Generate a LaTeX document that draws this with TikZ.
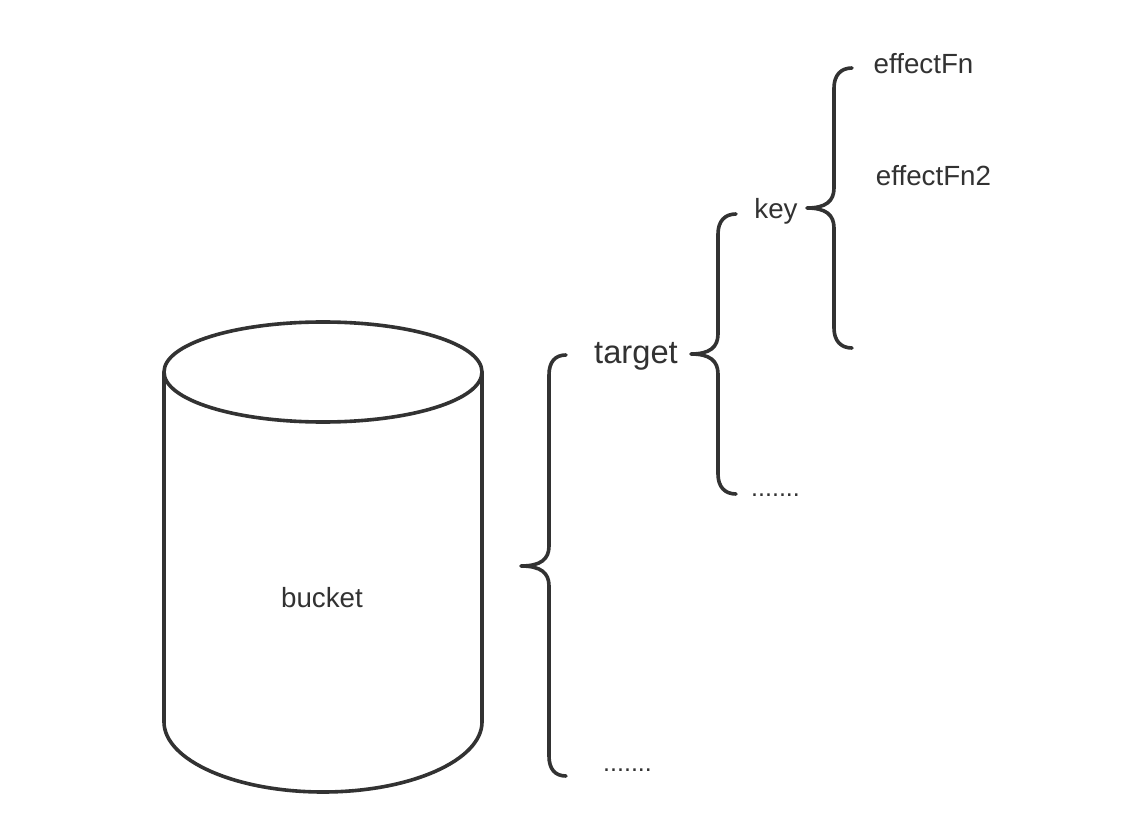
\documentclass[tikz,border=0pt]{standalone}
\usepackage{fontspec}
\setmainfont{Liberation Sans}
\definecolor{ink}{HTML}{323232}
\tikzset{
  outline/.style={draw=ink,line width=2.7pt,line cap=round,line join=round},
  lab/.style={text=ink,inner sep=0pt,font=\fontsize{#1}{#1}\selectfont}
}
\begin{document}
\begin{tikzpicture}[x=0.75pt,y=-0.75pt]
\useasboundingbox[fill=white] (0,0) rectangle (1138,816);
% cylinder
\draw[outline] (164,372) .. controls (164,344) and (235,322) .. (323,322) .. controls (411,322) and (482,344) .. (482,372) .. controls (482,400) and (411,422) .. (323,422) .. controls (235,422) and (164,400) .. (164,372) -- cycle;
\draw[outline] (164,372) -- (164,722) .. controls (164,760) and (235,792) .. (323,792) .. controls (411,792) and (482,760) .. (482,722) -- (482,372);
\node[lab=20.8] (bucket) at (322,597.5) {bucket};
% braces
\draw[outline] (566,355) .. controls (555,355) and (549,362) .. (549,375) -- (549,546) .. controls (549,559) and (541,566) .. (521,566) .. controls (541,566) and (549,573) .. (549,586) -- (549,756) .. controls (549,769) and (555,776) .. (566,776);
\draw[outline] (736,214) .. controls (725,214) and (718,221) .. (718,234) -- (718,334) .. controls (718,347) and (710,354) .. (691,354) .. controls (710,354) and (718,361) .. (718,374) -- (718,474) .. controls (718,487) and (725,494) .. (736,494);
\draw[outline] (852,68) .. controls (841,68) and (834,75) .. (834,88) -- (834,188) .. controls (834,201) and (826,208) .. (807,208) .. controls (826,208) and (834,215) .. (834,228) -- (834,328) .. controls (834,341) and (841,348) .. (852,348);
\node[lab=24.5] (target) at (636,356) {target};
\node[lab=20.8] (key) at (776,211.5) {key};
\node[lab=20.8] (fn1) at (923.5,64) {effectFn};
\node[lab=20.8] (fn2) at (933.5,176) {effectFn2};
\node[lab=18.8] (dots1) at (775.5,495.5) {.......};
\node[lab=18.8] (dots2) at (627.5,770.5) {.......};
\end{tikzpicture}
\end{document}
